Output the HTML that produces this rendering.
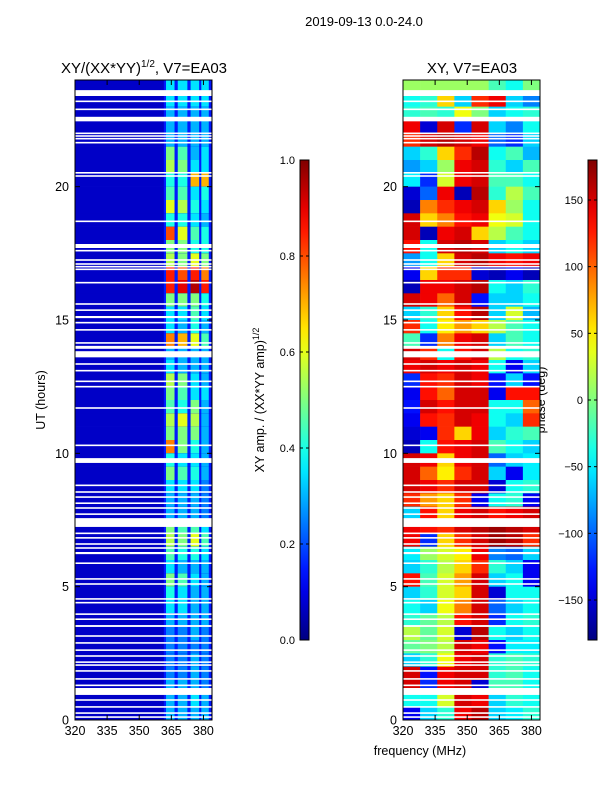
<!DOCTYPE html>
<html><head><meta charset="utf-8">
<style>
body{margin:0;background:#fff;font-family:"Liberation Sans",sans-serif;}
svg text{font-family:"Liberation Sans",sans-serif;}
</style></head>
<body>
<svg id="fig" width="600" height="800" xmlns="http://www.w3.org/2000/svg">
<rect width="600" height="800" fill="#fff"/>
<text x="364" y="26" font-size="13" text-anchor="middle">2019-09-13 0.0-24.0</text>
<text x="144" y="73" font-size="15" text-anchor="middle">XY/(XX*YY)<tspan font-size="10" dy="-6">1/2</tspan><tspan dy="6">, V7=EA03</tspan></text>
<text x="472" y="73" font-size="15" text-anchor="middle">XY, V7=EA03</text>
<text x="45" y="400" font-size="12.5" text-anchor="middle" transform="rotate(-90 45 400)">UT (hours)</text>
<text x="420" y="755" font-size="12.5" text-anchor="middle">frequency (MHz)</text>
<text x="264" y="400" font-size="12.5" text-anchor="middle" transform="rotate(-90 264 400)">XY amp. / (XX*YY amp)<tspan font-size="9" dy="-5">1/2</tspan></text>
<text x="545" y="400" font-size="12.5" text-anchor="middle" transform="rotate(-90 545 400)">phase (deg)</text>
<g id="g-amp"></g>
<g id="g-ph"></g>
<g id="g-ax"></g>
</svg>
<script>
const hours = [23.75,23.25,22.75,22.25,21.75,21.25,20.75,20.25,19.75,19.25,18.75,18.25,17.75,17.25,16.75,16.25,15.75,15.25,14.75,14.25,13.75,13.25,12.75,12.25,11.75,11.25,10.75,10.25,9.75,9.25,8.75,8.25,7.75,7.25,6.75,6.25,5.75,5.25,4.75,4.25,3.75,3.25,2.75,2.25,1.75,1.25,0.75,0.25];
const ampBands = [[362.5,366.5],[368,372.5],[374,378],[379,382.5]];
const ampValues = [
[0.35,0.35,0.35,0.35],[0.35,0.35,0.35,0.35],[0.3,0.3,0.3,0.3],[0.3,0.3,0.3,0.3],[0.3,0.3,0.3,0.3],
[0.5,0.45,0.3,0.35],[0.55,0.5,0.35,0.35],[0.4,0.4,0.7,0.7],[0.45,0.45,0.35,0.4],[0.6,0.55,0.4,0.35],
[0.4,0.4,0.35,0.3],[0.8,0.6,0.45,0.4],[0.5,0.5,0.4,0.4],[0.55,0.5,0.6,0.5],[0.85,0.8,0.85,0.75],
[0.85,0.9,0.95,0.85],[0.5,0.5,0.5,0.4],[0.35,0.35,0.45,0.35],[0.35,0.3,0.4,0.3],[0.75,0.7,0.6,0.45],
[0.3,0.3,0.3,0.3],[0.35,0.3,0.3,0.3],[0.55,0.5,0.35,0.3],[0.5,0.45,0.35,0.35],[0.45,0.4,0.5,0.3],
[0.55,0.6,0.55,0.3],[0.5,0.5,0.5,0.3],[0.75,0.5,0.4,0.3],[0.4,0.35,0.35,0.3],[0.5,0.45,0.4,0.3],
[0.35,0.35,0.35,0.25],[0.3,0.3,0.3,0.25],[0.3,0.3,0.3,0.25],[0.5,0.45,0.45,0.35],[0.55,0.5,0.6,0.45],
[0.45,0.4,0.4,0.35],[0.35,0.3,0.3,0.3],[0.5,0.45,0.35,0.3],[0.4,0.35,0.3,0.3],[0.35,0.35,0.3,0.3],
[0.3,0.3,0.3,0.3],[0.25,0.25,0.3,0.25],[0.25,0.25,0.25,0.25],[0.25,0.25,0.3,0.25],[0.25,0.25,0.3,0.25],
[0.3,0.3,0.3,0.25],[0.3,0.3,0.35,0.3],[0.3,0.3,0.3,0.3]];
const ampBackground = 0.07;
const ampBetween = 0.15;
const phaseFreqs = [320,328,336,344,352,360,368,376,384];
const phaseValues = [
[10,10,10,10,10,-20,-40,0],[-40,-30,60,-60,120,140,-60,-90],[-30,-20,-30,40,0,-60,-40,-30],[140,-150,150,-120,150,-60,-90,-40],
[120,150,160,150,140,-100,-120,-60],[-60,-30,60,120,160,-40,-20,-70],[-80,-60,10,140,150,-30,-60,-20],[-50,-120,30,140,150,-20,-20,-40],
[-150,-100,140,-160,160,-30,20,-20],[-160,90,120,140,150,60,10,-40],[150,60,90,130,140,40,30,-40],[150,-160,140,150,60,20,-20,-40],
[130,-40,150,160,150,-60,-40,-60],[-80,-40,60,150,160,140,130,140],[-140,60,120,120,-150,-160,-140,-160],[-160,140,140,150,160,-40,-60,-30],
[150,140,100,150,-130,-60,-60,-40],[-60,-30,60,130,160,-60,30,-70],[120,-40,50,80,60,20,-20,-40],[-20,-120,90,140,150,-60,-20,-40],
[150,120,-40,130,150,20,-40,-30],[140,150,140,150,140,-40,-140,-60],[-120,130,120,150,140,-130,-60,-130],[-140,130,100,150,150,-140,130,130],
[-130,150,130,150,150,-40,-40,100],[-140,130,120,150,140,-40,-60,120],[-150,-140,120,60,140,-60,-30,-20],[-160,-40,130,140,150,-20,-40,-60],
[150,140,60,140,150,-100,-60,-50],[150,100,50,120,150,-60,-140,-50],[150,140,120,150,150,-150,-40,-30],[120,80,60,120,-140,-40,-30,-140],
[-60,130,60,140,150,130,140,150],[140,130,120,150,160,170,160,150],[140,-120,60,120,150,170,160,120],[-50,10,30,50,140,-90,-100,-60],
[-60,-30,20,60,120,-30,-60,-140],[130,-20,30,80,150,-60,-40,-140],[-60,-30,30,60,150,-150,-40,-40],[-40,-60,40,90,150,-100,-60,-40],
[-30,-10,20,130,150,-120,-40,-30],[20,-10,30,-150,160,-40,-60,-40],[-10,0,20,150,140,-130,-50,-50],[-60,-30,40,140,150,-30,-20,-30],
[150,-130,140,150,150,-30,-20,-40],[150,-120,140,150,-150,-20,-20,-40],[-40,-40,30,150,140,-60,-30,-40],[-140,-60,-30,140,160,-60,-50,-30]];
const flagged = [[23.4,23.62],[23.17,23.23],[22.87,22.93],[22.45,22.62],[21.97,22.03],[21.87,21.93],[21.77,21.83],[21.62,21.68],[20.49,20.55],[20.37,20.43],
[18.67,18.73],[17.7,17.85],[17.57,17.63],[17.22,17.28],[17.07,17.13],[16.97,17.03],[16.87,16.93],[16.37,16.43],[15.57,15.63],[15.34,15.4],
[15.07,15.15],[14.87,14.93],[14.6,14.66],[14.11,14.17],[13.97,14.03],[13.92,13.98],[13.6,13.83],[13.32,13.38],[13.07,13.13],[12.67,12.73],
[12.47,12.53],[11.67,11.73],[10.27,10.33],[9.64,9.82],[8.77,8.83],[8.52,8.58],[8.33,8.39],[8.1,8.16],[7.92,7.98],[7.69,7.75],[7.24,7.57],
[6.97,7.03],[6.8,6.86],[6.57,6.63],[6.42,6.48],[6.22,6.3],[5.85,5.91],[5.26,5.32],[5.07,5.13],[4.51,4.57],[4.37,4.43],[3.94,4.0],[3.75,3.81],
[3.49,3.56],[3.12,3.18],[2.86,2.92],[2.59,2.65],[2.37,2.43],[2.14,2.2],[2.03,2.09],[1.81,1.87],[1.51,1.57],[1.27,1.33],[0.94,1.2],[0.72,0.78],
[0.46,0.52],[0.23,0.29],[0.08,0.14]];
const xTicks = [320,335,350,365,380];
const yTicks = [0,5,10,15,20];
const ampTicks = [0.0,0.2,0.4,0.6,0.8,1.0];
const phaseTicks = [-150,-100,-50,0,50,100,150];

const NS="http://www.w3.org/2000/svg";
const PY0=80, PY1=720, H0=0, H1=24, F0=320, F1=384;
const panels=[{x0:75,x1:212},{x0:403,x1:540}];
function yS(h){return PY1-(h-H0)/(H1-H0)*(PY1-PY0);}
function xS(p,f){return p.x0+(f-F0)/(F1-F0)*(p.x1-p.x0);}
function cl(v){return Math.max(0,Math.min(1,v));}
function jet(t){t=cl(t);const r=cl(1.5-Math.abs(4*t-3)),g=cl(1.5-Math.abs(4*t-2)),b=cl(1.5-Math.abs(4*t-1));
return `rgb(${Math.round(r*255)},${Math.round(g*255)},${Math.round(b*255)})`;}
function mk(tag,attrs,parent){const e=document.createElementNS(NS,tag);for(const k in attrs)e.setAttribute(k,attrs[k]);parent.appendChild(e);return e;}
const gA=document.getElementById('g-amp'), gP=document.getElementById('g-ph'), gX=document.getElementById('g-ax');
const halfH=0.25;
// amplitude heatmap
hours.forEach((h,i)=>{
  const y0=yS(h+halfH), y1=yS(h-halfH);
  let r=mk('rect',{x:xS(panels[0],F0),y:y0,width:xS(panels[0],F1)-xS(panels[0],F0),height:y1-y0+0.3,fill:jet(ampBackground)},gA);
  
  
  r=mk('rect',{x:xS(panels[0],361.5),y:y0,width:xS(panels[0],383.5)-xS(panels[0],361.5),height:y1-y0+0.3,fill:jet(ampBetween)},gA);
  
  
  ampBands.forEach((b,j)=>{
    const c=mk('rect',{x:xS(panels[0],b[0]),y:y0,width:xS(panels[0],b[1])-xS(panels[0],b[0]),height:y1-y0+0.3,fill:jet(ampValues[i][j])},gA);
    
    
  });
});
// phase heatmap
hours.forEach((h,i)=>{
  const y0=yS(h+halfH), y1=yS(h-halfH);
  for(let j=0;j<phaseFreqs.length-1;j++){
    const c=mk('rect',{x:xS(panels[1],phaseFreqs[j]),y:y0,width:xS(panels[1],phaseFreqs[j+1])-xS(panels[1],phaseFreqs[j])+0.3,height:y1-y0+0.3,fill:jet((phaseValues[i][j]+180)/360)},gP);
    
    
  }
});
// flagged rows
panels.forEach((p,pi)=>{
  flagged.forEach(f=>{
    const w=mk('rect',{x:p.x0,y:yS(f[1]),width:p.x1-p.x0,height:Math.max(1.3,yS(f[0])-yS(f[1])),fill:'#fff'},pi?gP:gA);
    
    
  });
});
// axes
panels.forEach((p,pi)=>{
  const fr=mk('rect',{x:p.x0,y:PY0,width:p.x1-p.x0,height:PY1-PY0,fill:'none',stroke:'#000','stroke-width':1},gX);
  
  
  xTicks.forEach(t=>{
    const x=xS(p,t);
    mk('line',{x1:x,y1:PY1,x2:x,y2:PY1-5,stroke:'#000'},gX);
    mk('line',{x1:x,y1:PY0,x2:x,y2:PY0+5,stroke:'#000'},gX);
    const tx=mk('text',{x:x,y:PY1+15,'font-size':12.5,'text-anchor':'middle'},gX);tx.textContent=t;
    
    
  });
  yTicks.forEach(t=>{
    const y=yS(t);
    mk('line',{x1:p.x0,y1:y,x2:p.x0+5,y2:y,stroke:'#000'},gX);
    mk('line',{x1:p.x1,y1:y,x2:p.x1-5,y2:y,stroke:'#000'},gX);
    const tx=mk('text',{x:p.x0-6,y:y+4.5,'font-size':12.5,'text-anchor':'end'},gX);tx.textContent=t;
    
    
  });
});
// colorbars
const CB0=160, CB1=640;
function colorbar(x,ticks,vmin,vmax,id,name){
  const defs=mk('defs',{},gX);
  const lg=mk('linearGradient',{id:id,x1:0,y1:1,x2:0,y2:0},defs);
  for(let k=0;k<=20;k++){mk('stop',{offset:k/20,'stop-color':jet(k/20)},lg);}
  const r=mk('rect',{x:x,y:CB0,width:9,height:CB1-CB0,fill:`url(#${id})`,stroke:'#000','stroke-width':1},gX);
  
  
  ticks.forEach(t=>{
    const y=CB1-(t-vmin)/(vmax-vmin)*(CB1-CB0);
    mk('line',{x1:x,y1:y,x2:x+3,y2:y,stroke:'#000'},gX);
    mk('line',{x1:x+9,y1:y,x2:x+6,y2:y,stroke:'#000'},gX);
    const tx=mk('text',{x:x-5,y:y+4,'font-size':11,'text-anchor':'end'},gX);
    tx.textContent=(vmax<=1)?t.toFixed(1):(t<0?'\u2212'+Math.abs(t):t);
    
    
  });
}
colorbar(300,ampTicks,0,1,'cbA','amp-colorbar');
colorbar(588,phaseTicks,-180,180,'cbP','phase-colorbar');
</script>
</body></html>
